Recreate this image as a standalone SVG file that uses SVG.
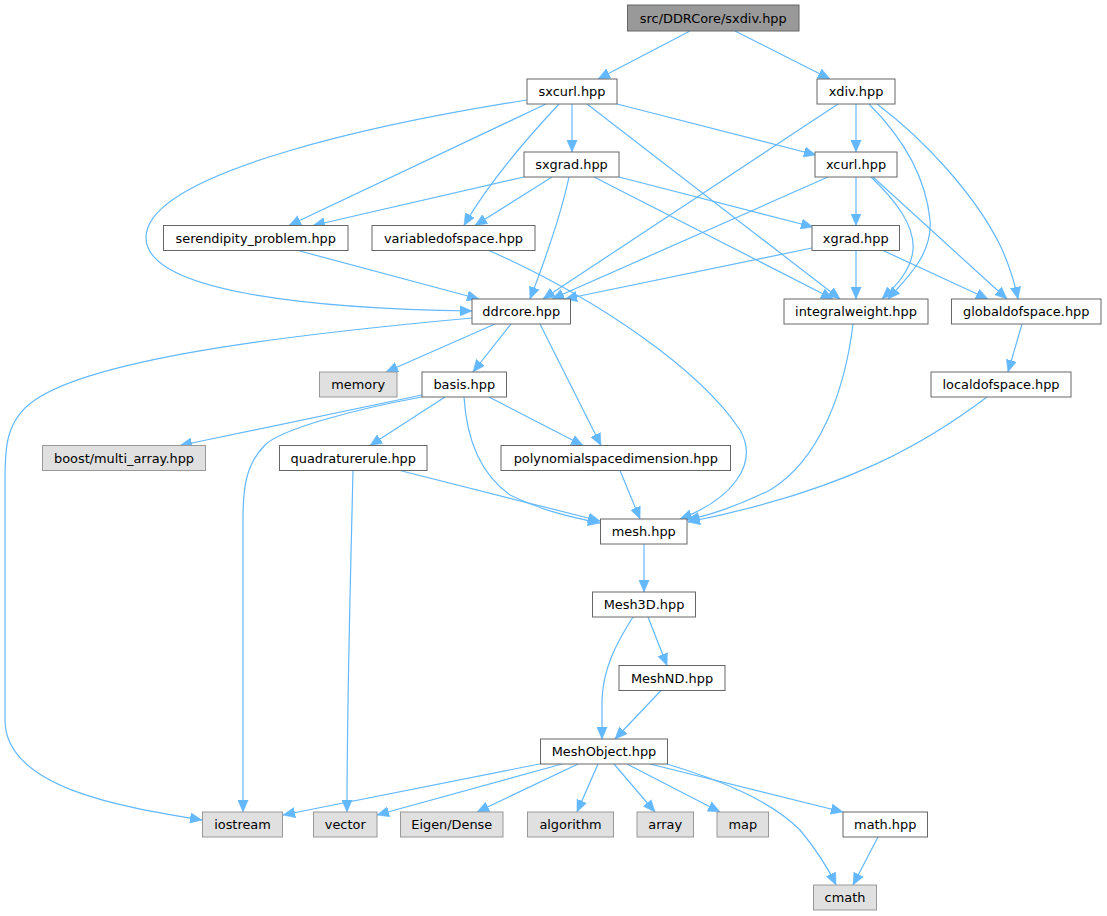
<svg xmlns="http://www.w3.org/2000/svg" width="1107" height="916" viewBox="0 0 1107 916">
<style>
.n rect{fill:#ffffff;stroke:#666666;stroke-width:1}
.x rect{fill:#e0e0e0;stroke:#999999;stroke-width:1}
.r rect{fill:#999999;stroke:#666666;stroke-width:1}
text{font-family:"DejaVu Sans","Liberation Sans",sans-serif;font-size:12.9px;text-anchor:middle;fill:#000000}
#edges path{fill:none;stroke:#63b8ff;stroke-width:1.2;marker-end:url(#ah)}
</style>
<defs>
<marker id="ah" markerUnits="userSpaceOnUse" markerWidth="12" markerHeight="11" viewBox="0 0 12 11" refX="12" refY="5.5" orient="auto">
<path d="M0,0.3 L12,5.5 L0,10.7 z" fill="#63b8ff" stroke="#63b8ff" stroke-width="0.5"/>
</marker>
</defs>
<rect width="1107" height="916" fill="#ffffff"/>
<g id="edges">
<path d="M690,31 L598,79"/>
<path d="M735,31 L830,79"/>
<path d="M527,100 C400,120 145,170 146,238 C147,295 330,309 472,311"/>
<path d="M546,104 L289,225.5"/>
<path d="M559,104 C530,135 490,180 464,225.5"/>
<path d="M572,104 L572,152"/>
<path d="M587,104 L840,299"/>
<path d="M617,104 L816,155"/>
<path d="M838,104 L543,299"/>
<path d="M856,104 L856,152"/>
<path d="M869,104 C895,130 925,170 930,220 C933,255 905,280 888,299"/>
<path d="M877,104 C925,140 975,195 1000,245 C1008,262 1014,280 1018,299"/>
<path d="M524,177 L313,225.5"/>
<path d="M552,177 L475,225.5"/>
<path d="M569,177 C562,210 545,260 530,299"/>
<path d="M594,177 L833,299"/>
<path d="M619,177 L813,227"/>
<path d="M828,177 L552,299"/>
<path d="M856,177 L856,225.5"/>
<path d="M871,177 C895,200 915,225 913,250 C911,270 897,285 882,299"/>
<path d="M873,177 L1007,299"/>
<path d="M812,248 L565,299"/>
<path d="M856,250.5 L856,299"/>
<path d="M883,250.5 L988,299"/>
<path d="M298,250.5 L479,299"/>
<path d="M489,250.5 C600,300 700,370 740,430 C760,465 730,500 680,519"/>
<path d="M472,318 C320,332 100,355 35,400 C5,420 5,450 5,480 L5,720 C5,790 130,808 202,820"/>
<path d="M495,324 L386,372"/>
<path d="M511,324 L473,372"/>
<path d="M540,324 L601,445.5"/>
<path d="M853,324 C845,390 820,460 770,490 C740,505 715,514 687,520"/>
<path d="M1022,324 L1008,372"/>
<path d="M987,397 C930,440 850,490 688,522"/>
<path d="M422,395 L180,445.5"/>
<path d="M422,397 C350,410 280,430 265,445 C245,465 243,490 243,520 L243,812"/>
<path d="M445,397 L370,445.5"/>
<path d="M464,397 C466,430 475,470 510,495 C540,510 570,517 600,523"/>
<path d="M489,397 L583,445.5"/>
<path d="M353,470.5 C350,600 347,700 347,812"/>
<path d="M400,470.5 L600,521"/>
<path d="M620,470.5 L640,519"/>
<path d="M644,544 L644,592"/>
<path d="M633,617 C615,645 603,670 602,700 L602,739"/>
<path d="M648,617 L667,665.5"/>
<path d="M661,690.5 L615,739"/>
<path d="M542,763.5 L283,815"/>
<path d="M562,764 L377,815"/>
<path d="M578,764 L477,812"/>
<path d="M598,764 L577,812"/>
<path d="M614,764 L655,812"/>
<path d="M627,764 L720,812"/>
<path d="M650,764 L843,812"/>
<path d="M667,764 C720,780 770,800 800,830 C815,848 828,868 836,885"/>
<path d="M878,837 L853,885"/>
</g>
<g id="n_sxdiv" class="r"><rect x="627.5" y="5" width="171.5" height="26"/><text x="713.25" y="22.5">src/DDRCore/sxdiv.hpp</text></g>
<g id="n_sxcurl" class="n"><rect x="527" y="79" width="90" height="25"/><text x="572" y="96">sxcurl.hpp</text></g>
<g id="n_xdiv" class="n"><rect x="817" y="79" width="78" height="25"/><text x="856" y="96">xdiv.hpp</text></g>
<g id="n_sxgrad" class="n"><rect x="524" y="152" width="95" height="25"/><text x="571.5" y="169">sxgrad.hpp</text></g>
<g id="n_xcurl" class="n"><rect x="815" y="152" width="82" height="25"/><text x="856" y="169">xcurl.hpp</text></g>
<g id="n_serendipity" class="n"><rect x="163.5" y="225.5" width="184.5" height="25"/><text x="255.75" y="242.5">serendipity_problem.hpp</text></g>
<g id="n_variabledofspace" class="n"><rect x="372" y="225.5" width="163" height="25"/><text x="453.5" y="242.5">variabledofspace.hpp</text></g>
<g id="n_xgrad" class="n"><rect x="812" y="225.5" width="87.5" height="25"/><text x="855.75" y="242.5">xgrad.hpp</text></g>
<g id="n_ddrcore" class="n"><rect x="472" y="299" width="98.5" height="25"/><text x="521.25" y="316">ddrcore.hpp</text></g>
<g id="n_integralweight" class="n"><rect x="784" y="299" width="144" height="25"/><text x="856" y="316">integralweight.hpp</text></g>
<g id="n_globaldofspace" class="n"><rect x="951.5" y="299" width="149.5" height="25"/><text x="1026.25" y="316">globaldofspace.hpp</text></g>
<g id="n_memory" class="x"><rect x="319.5" y="372" width="77.5" height="25"/><text x="358.25" y="389">memory</text></g>
<g id="n_basis" class="n"><rect x="422" y="372" width="84.5" height="25"/><text x="464.25" y="389">basis.hpp</text></g>
<g id="n_localdofspace" class="n"><rect x="931" y="372" width="140" height="25"/><text x="1001" y="389">localdofspace.hpp</text></g>
<g id="n_boost" class="x"><rect x="42.5" y="445.5" width="163" height="25"/><text x="124" y="462.5">boost/multi_array.hpp</text></g>
<g id="n_quadraturerule" class="n"><rect x="279.5" y="445.5" width="147.5" height="25"/><text x="353.25" y="462.5">quadraturerule.hpp</text></g>
<g id="n_polynomialspacedimension" class="n"><rect x="501" y="445.5" width="229.5" height="25"/><text x="615.75" y="462.5">polynomialspacedimension.hpp</text></g>
<g id="n_mesh" class="n"><rect x="600.5" y="519" width="86.5" height="25"/><text x="643.75" y="536">mesh.hpp</text></g>
<g id="n_Mesh3D" class="n"><rect x="592.5" y="592" width="103" height="25"/><text x="644" y="609">Mesh3D.hpp</text></g>
<g id="n_MeshND" class="n"><rect x="619" y="665.5" width="106" height="25"/><text x="672" y="682.5">MeshND.hpp</text></g>
<g id="n_MeshObject" class="n"><rect x="540.5" y="739" width="127" height="25"/><text x="604" y="756">MeshObject.hpp</text></g>
<g id="n_iostream" class="x"><rect x="202.5" y="812" width="80" height="25"/><text x="242.5" y="829">iostream</text></g>
<g id="n_vector" class="x"><rect x="313.5" y="812" width="63.5" height="25"/><text x="345.25" y="829">vector</text></g>
<g id="n_Eigen" class="x"><rect x="400.5" y="812" width="102.5" height="25"/><text x="451.75" y="829">Eigen/Dense</text></g>
<g id="n_algorithm" class="x"><rect x="527.5" y="812" width="86" height="25"/><text x="570.5" y="829">algorithm</text></g>
<g id="n_array" class="x"><rect x="637" y="812" width="56.5" height="25"/><text x="665.25" y="829">array</text></g>
<g id="n_map" class="x"><rect x="717" y="812" width="51.5" height="25"/><text x="742.75" y="829">map</text></g>
<g id="n_math" class="n"><rect x="843" y="812" width="84.5" height="25"/><text x="885.25" y="829">math.hpp</text></g>
<g id="n_cmath" class="x"><rect x="813.5" y="885" width="63" height="25"/><text x="845" y="902">cmath</text></g>
</svg>
